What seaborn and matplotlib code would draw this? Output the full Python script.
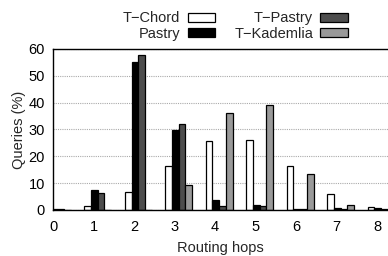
import seaborn as sns
import matplotlib.pyplot as plt
import numpy as np
import pandas as pd

hops = [0, 1, 2, 3, 4, 5, 6, 7, 8]
series = ["T\u2212Chord", "Pastry", "T\u2212Pastry", "T\u2212Kademlia"]
t_chord = [0.2, 1.4, 6.8, 16.4, 25.6, 25.9, 16.2, 5.9, 1.2]
pastry = [0.2, 7.5, 55.3, 29.8, 3.8, 1.8, 0.4, 0.6, 0.7]
t_pastry = [0.2, 6.4, 57.9, 32.2, 1.5, 1.3, 0.4, 0.2, 0.3]
t_kademlia = [0.0, 0.0, 0.0, 9.4, 36.3, 39.0, 13.4, 1.8, 0.0]

colors = ["white", "black", "#4d4d4d", "#999999"]

# gnuplot-style histogram: each group sits slightly right of its tick
shift = 0.1
rows = []
for name, vals in zip(series, [t_chord, pastry, t_pastry, t_kademlia]):
    for h, v in zip(hops, vals):
        rows.append({"hop": h + shift, "queries": v, "series": name})
df = pd.DataFrame(rows)

sns.set_style("white")
plt.rcParams['font.family'] = ['Liberation Sans', 'DejaVu Sans']
fs = 10.5

fig = plt.figure(figsize=(3.88, 2.56), dpi=100)
ax = fig.add_axes([0.137, 0.180, 0.863, 0.629])

sns.barplot(data=df, x="hop", y="queries", hue="series", hue_order=series,
            palette=dict(zip(series, colors)), native_scale=True,
            width=0.66, errorbar=None, edgecolor="black", linewidth=0.9,
            ax=ax)

handles, labels = ax.get_legend_handles_labels()
ax.get_legend().remove()
fig.legend(handles, labels, ncol=2, markerfirst=False, frameon=False,
           loc="upper center", bbox_to_anchor=(0.607, 0.995),
           handlelength=1.9, handleheight=0.6, handletextpad=0.5,
           labelspacing=0.1, columnspacing=1.3, fontsize=fs,
           borderaxespad=0.3)

ax.set_xlim(0, 8.27)
ax.set_ylim(0, 60)
ax.set_xticks(hops)
ax.set_xticklabels([str(h) for h in hops])
ax.set_yticks(range(0, 61, 10))
ax.tick_params(axis="both", length=0, labelsize=fs, colors="black")
ax.tick_params(axis="x", pad=7)
ax.tick_params(axis="y", pad=6)
ax.yaxis.grid(True, color="#aaaaaa", linestyle=(0, (1, 1)), linewidth=0.8)
ax.set_axisbelow(True)
for s in ["left", "top", "bottom"]:
    ax.spines[s].set_color("black")
    ax.spines[s].set_linewidth(1)
ax.spines["right"].set_visible(False)

ax.set_xlabel("Routing hops", fontsize=fs, labelpad=5)
ax.set_ylabel("Queries (%)", fontsize=fs, labelpad=2)

fig.savefig("out.png", dpi=100)
